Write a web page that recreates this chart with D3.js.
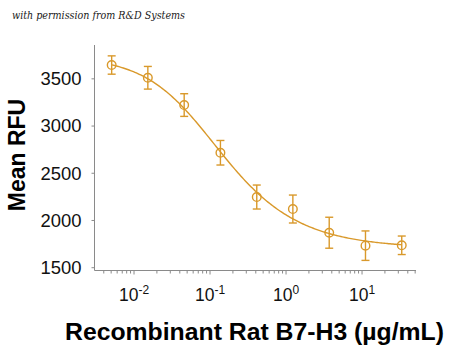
<!DOCTYPE html>
<html>
<head>
<meta charset="utf-8">
<script src="https://cdn.jsdelivr.net/npm/d3@7"></script>
<style>
  html, body { margin: 0; padding: 0; background: #fff; }
  svg { display: block; }
</style>
</head>
<body>
<svg id="chart" width="450" height="347"></svg>
<script>
// ---- Data ----
const concentrations = [0.00508, 0.0152, 0.0457, 0.137, 0.412, 1.23, 3.70, 11.1, 33.3]; // µg/mL
const meanRFU        = [3641, 3506, 3217, 2712, 2243, 2116, 1865, 1728, 1732];
const errorRFU       = [97, 120, 120, 130, 127, 148, 164, 156, 98];
const yTickValues    = [1500, 2000, 2500, 3000, 3500];
const xTickExponents = [-2, -1, 0, 1];
// 5-parameter logistic fit (bottom, top, EC50-ish, hill, asymmetry)
const fitParams = { bottom: 1700, top: 3730, c: 0.073, hill: 1.0, s: 0.65 };

const color = "#D9992B";
const axisColor = "#8a8a8a";

const svg = d3.select("#chart");

const x = d3.scaleLog().domain([Math.pow(10, -2.52), Math.pow(10, 1.71)]).range([94.5, 416]);
const y = d3.scaleLinear().domain([1465, 3853]).range([270.5, 45]);

// watermark
svg.append("text")
  .attr("x", 12).attr("y", 19)
  .attr("textLength", 173).attr("lengthAdjust", "spacingAndGlyphs")
  .attr("font-family", "'DejaVu Serif', 'Liberation Serif', serif")
  .attr("font-style", "italic")
  .attr("font-size", 10.5)
  .attr("fill", "#1a1a1a")
  .text("with permission from R&D Systems");

// Y axis
const yAxis = svg.append("g").attr("transform", "translate(94.5,0)")
  .call(d3.axisLeft(y).tickValues(yTickValues).tickSize(3).tickPadding(10).tickFormat(d3.format("d")));
yAxis.select(".domain").attr("stroke", axisColor).attr("d", `M-0,${y.range()[1]}V${y.range()[0]}`);
yAxis.selectAll(".tick line").attr("stroke", axisColor);
yAxis.selectAll(".tick text")
  .attr("font-family", "Arial, 'Liberation Sans', sans-serif")
  .attr("font-size", 17.5).attr("fill", "#111")
  .attr("textLength", 41).attr("lengthAdjust", "spacingAndGlyphs")
  .attr("dy", "0.36em");

// X axis (log with minor ticks)
const minorTicks = [];
for (let e = -3; e <= 1; e++) {
  for (let m = 1; m <= 9; m++) {
    const v = m * Math.pow(10, e);
    if (v >= x.domain()[0] && v <= x.domain()[1]) minorTicks.push(v);
  }
}
const xg = svg.append("g").attr("transform", "translate(0,270.5)");
xg.append("line").attr("x1", 94.5).attr("x2", 416).attr("y1", 0).attr("y2", 0)
  .attr("stroke", axisColor);
xg.selectAll("line.tk").data(minorTicks).join("line").attr("class", "tk")
  .attr("x1", d => x(d)).attr("x2", d => x(d))
  .attr("y1", 0).attr("y2", d => (Math.abs(Math.log10(d) - Math.round(Math.log10(d))) < 1e-9 ? 4 : 3))
  .attr("stroke", axisColor);

const xl = xg.selectAll("text.xl").data(xTickExponents).join("text").attr("class", "xl")
  .attr("x", d => x(Math.pow(10, d)))
  .attr("y", 30.5)
  .attr("text-anchor", "middle")
  .attr("font-family", "Arial, 'Liberation Sans', sans-serif")
  .attr("font-size", 17.5)
  .attr("fill", "#111");
xl.append("tspan").text("10");
xl.append("tspan").attr("dy", -7).attr("font-size", 12).text(d => d < 0 ? "-" + Math.abs(d) : String(d));

// Axis titles
svg.append("text")
  .attr("transform", "translate(24.5,155) rotate(-90)")
  .attr("text-anchor", "middle")
  .attr("font-family", "Arial, 'Liberation Sans', sans-serif")
  .attr("font-weight", "bold").attr("font-size", 23).attr("fill", "#000")
  .text("Mean RFU");

svg.append("text")
  .attr("x", 65).attr("y", 339.5)
  .attr("textLength", 379).attr("lengthAdjust", "spacingAndGlyphs")
  .attr("font-family", "Arial, 'Liberation Sans', sans-serif")
  .attr("font-weight", "bold").attr("font-size", 23).attr("fill", "#000")
  .text("Recombinant Rat B7-H3 (\u00B5g/mL)");

// Fit curve
const fit = xv => fitParams.bottom + (fitParams.top - fitParams.bottom) /
  Math.pow(1 + Math.pow(xv / fitParams.c, fitParams.hill), fitParams.s);
const lx0 = Math.log10(concentrations[0]), lx1 = Math.log10(concentrations[concentrations.length - 1]);
const curvePts = d3.range(0, 201).map(i => Math.pow(10, lx0 + (lx1 - lx0) * i / 200));
svg.append("path")
  .datum(curvePts)
  .attr("fill", "none").attr("stroke", color).attr("stroke-width", 1.4)
  .attr("d", d3.line().x(d => x(d)).y(d => y(fit(d))));

// Points with error bars
const pts = concentrations.map((c, i) => ({ c, v: meanRFU[i], e: errorRFU[i] }));
const g = svg.append("g").attr("stroke", color).attr("stroke-width", 1.4).attr("fill", "none");
const pg = g.selectAll("g").data(pts).join("g");
pg.append("line").attr("x1", d => x(d.c)).attr("x2", d => x(d.c))
  .attr("y1", d => y(d.v + d.e)).attr("y2", d => y(d.v - d.e));
pg.append("line").attr("x1", d => x(d.c) - 4).attr("x2", d => x(d.c) + 4)
  .attr("y1", d => y(d.v + d.e)).attr("y2", d => y(d.v + d.e));
pg.append("line").attr("x1", d => x(d.c) - 4).attr("x2", d => x(d.c) + 4)
  .attr("y1", d => y(d.v - d.e)).attr("y2", d => y(d.v - d.e));
pg.append("circle").attr("cx", d => x(d.c)).attr("cy", d => y(d.v)).attr("r", 4.3)
  .attr("fill", "none");
</script>
</body>
</html>
